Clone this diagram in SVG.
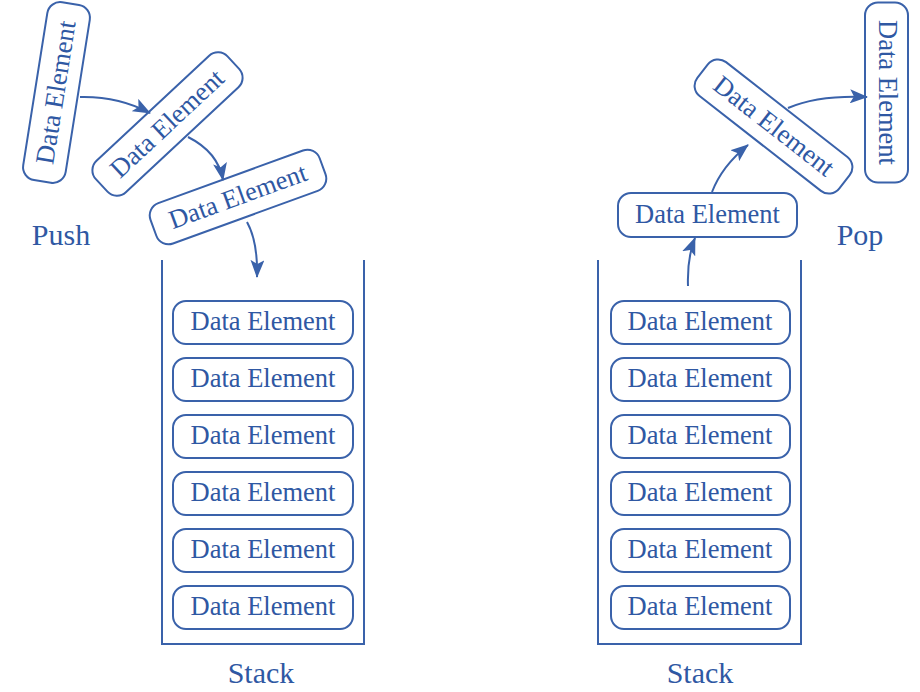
<svg xmlns="http://www.w3.org/2000/svg" width="920" height="692" viewBox="0 0 920 692">
<style>
.box{fill:#fff;stroke:#3a62aa;stroke-width:2}
.t{font-family:"Liberation Serif","Times New Roman",serif;font-size:26.5px;fill:#2f58a3;text-anchor:middle}
.lbl{font-family:"Liberation Serif","Times New Roman",serif;font-size:30px;fill:#2f58a3;text-anchor:middle}
.wall{fill:none;stroke:#3a62aa;stroke-width:2}
.arr{fill:none;stroke:#3a62aa;stroke-width:2;marker-end:url(#ah)}
</style>
<defs>
<marker id="ah" viewBox="0 0 18 14" refX="17" refY="7" markerWidth="18" markerHeight="14" markerUnits="userSpaceOnUse" orient="auto">
<path d="M0,0 L18,7 L0,14 L4,7 Z" fill="#3a62aa"/>
</marker>
</defs>
<rect width="920" height="692" fill="#fff"/>

<g id="stack-left">
<path class="wall" d="M162,260 V644 H364 V260"/>
<text class="lbl" x="261" y="683">Stack</text>
</g>
<g id="stack-right">
<path class="wall" d="M598,260 V644 H801 V260"/>
<text class="lbl" x="700" y="683">Stack</text>
</g>

<g id="label-push"><text class="lbl" x="61" y="245">Push</text></g>
<g id="label-pop"><text class="lbl" x="860" y="245">Pop</text></g>

<g id="left-items">
<g id="l1"><rect class="box" x="173" y="301" width="180" height="43" rx="13"/><text class="t" x="263" y="330">Data Element</text></g>
<g id="l2"><rect class="box" x="173" y="358" width="180" height="43" rx="13"/><text class="t" x="263" y="387">Data Element</text></g>
<g id="l3"><rect class="box" x="173" y="415" width="180" height="43" rx="13"/><text class="t" x="263" y="444">Data Element</text></g>
<g id="l4"><rect class="box" x="173" y="472" width="180" height="43" rx="13"/><text class="t" x="263" y="501">Data Element</text></g>
<g id="l5"><rect class="box" x="173" y="529" width="180" height="43" rx="13"/><text class="t" x="263" y="558">Data Element</text></g>
<g id="l6"><rect class="box" x="173" y="586" width="180" height="43" rx="13"/><text class="t" x="263" y="615">Data Element</text></g>
</g>

<g id="right-items">
<g id="r1"><rect class="box" x="611" y="301" width="179" height="43" rx="13"/><text class="t" x="700" y="330">Data Element</text></g>
<g id="r2"><rect class="box" x="611" y="358" width="179" height="43" rx="13"/><text class="t" x="700" y="387">Data Element</text></g>
<g id="r3"><rect class="box" x="611" y="415" width="179" height="43" rx="13"/><text class="t" x="700" y="444">Data Element</text></g>
<g id="r4"><rect class="box" x="611" y="472" width="179" height="43" rx="13"/><text class="t" x="700" y="501">Data Element</text></g>
<g id="r5"><rect class="box" x="611" y="529" width="179" height="43" rx="13"/><text class="t" x="700" y="558">Data Element</text></g>
<g id="r6"><rect class="box" x="611" y="586" width="179" height="43" rx="13"/><text class="t" x="700" y="615">Data Element</text></g>
</g>

<g id="push-a" transform="translate(56.5,92.5) rotate(-81)"><rect class="box" x="-90" y="-21.5" width="180" height="43" rx="13"/><text class="t" x="0" y="8">Data Element</text></g>
<g id="push-b" transform="translate(167.5,124) rotate(-43)"><rect class="box" x="-90" y="-21.5" width="180" height="43" rx="13"/><text class="t" x="0" y="8">Data Element</text></g>
<g id="push-c" transform="translate(238,197) rotate(-20)"><rect class="box" x="-90" y="-21.5" width="180" height="43" rx="13"/><text class="t" x="0" y="8">Data Element</text></g>

<g id="pop-d"><rect class="box" x="618" y="193" width="179" height="44" rx="13"/><text class="t" x="707.5" y="223">Data Element</text></g>
<g id="pop-e" transform="translate(773.5,126.5) rotate(38)"><rect class="box" x="-90" y="-21.5" width="180" height="43" rx="13"/><text class="t" x="0" y="8">Data Element</text></g>
<g id="pop-f" transform="translate(886.5,92.5) rotate(90)"><rect class="box" x="-90" y="-21.5" width="180" height="43" rx="13"/><text class="t" x="0" y="8">Data Element</text></g>

<g id="connectors">
<path class="arr" d="M80,97 Q118,96 150,113"/>
<path class="arr" d="M188,137 Q218,152 223,180"/>
<path class="arr" d="M247,222 Q258,242 257,277"/>
<path class="arr" d="M688,286 Q687,258 695,238"/>
<path class="arr" d="M712,192 Q722,166 748,145"/>
<path class="arr" d="M788,108 Q818,95 867,97"/>
</g>
</svg>
